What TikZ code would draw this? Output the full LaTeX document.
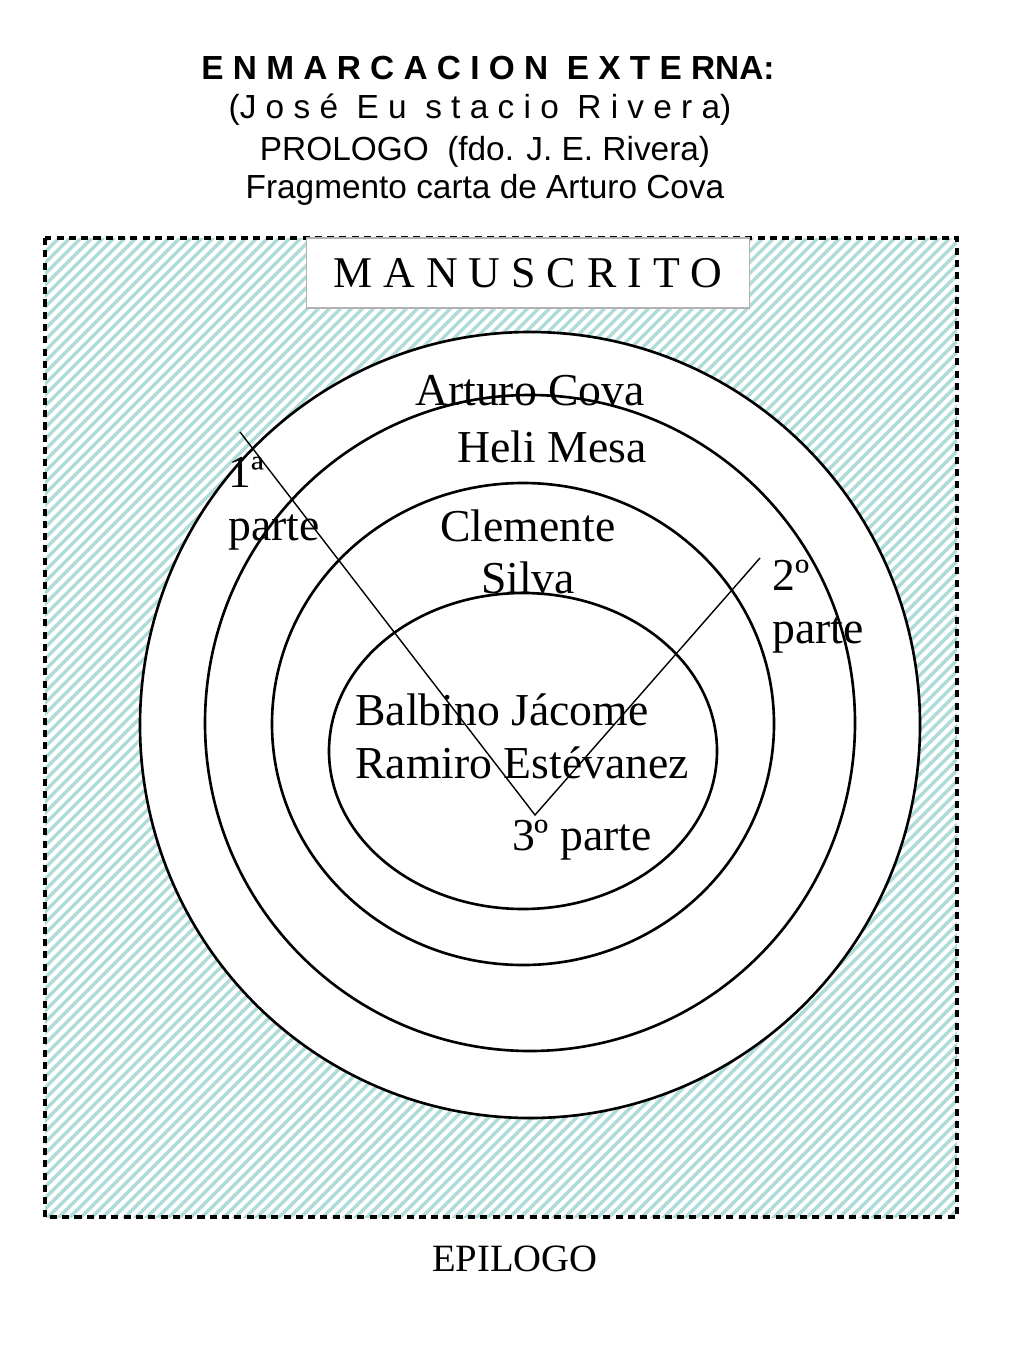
\documentclass[tikz,border=0pt]{standalone}
\usepackage{fontspec}
\setmainfont{Liberation Serif}
\newfontfamily\arialfont{Liberation Sans}
\definecolor{hatchcol}{RGB}{175,220,216}
\begin{document}
\begin{tikzpicture}[x=0.02cm, y=-0.02cm,
    ring/.style = {draw, line width = 1.5pt},
    label/.style = {font = \fontsize{26}{30}\selectfont, align = left, inner sep = 0pt},
    head/.style = {font = \arialfont\fontsize{19}{22}\selectfont, inner sep = 0pt}]
\useasboundingbox (0,0) rectangle (1024,1365);
% hatched frame
\begin{scope}
  \clip (45,238) rectangle (957,1217);
  \foreach \c in {0,11,...,2400}
    \draw[hatchcol, line width = 2pt] (\c-1300,1300) -- (\c,0);
\end{scope}
\draw[line width = 2.5pt, dash pattern = on 4pt off 3pt] (45,238) rectangle (957,1217);
\fill[white] (530,725) ellipse [x radius = 390, y radius = 393];
% title lines
\node[head, font = \arialfont\bfseries\fontsize{19}{22}\selectfont] (t1) at (488,68) {E N M A R C A C I O N\ \ E X T E RNA:};
\node[head] (t2) at (480,110) {(J o s é\ \ E u\ \ s t a c i o\ \ R i v e r a)};
\node[head] (t3) at (485,152) {PROLOGO\ \ (fdo. J. E. Rivera)};
\node[head] (t4) at (485,190) {Fragmento carta de Arturo Cova};
% box
\node[draw = gray!60, fill = white, line width = 1pt, minimum width = 443*0.02cm, minimum height = 70*0.02cm,
  font = \fontsize{25}{30}\selectfont] (manus) at (528,273) {M A N U S C R I T O};
% rings
\draw[ring] (530,725) ellipse [x radius = 390, y radius = 393];
\draw[ring] (530,723) ellipse [x radius = 325, y radius = 328];
\draw[ring] (523,724) ellipse [x radius = 251, y radius = 241];
\draw[ring] (523,751) ellipse [x radius = 194, y radius = 158];
% parts
\coordinate (p1) at (240,432);
\coordinate (p3) at (535,815);
\coordinate (p2) at (760,558);
\draw[line width = 0.8pt] (p1) -- (p3) -- (p2);
\node[label] (arturo) at (530,391) {Arturo Cova};
\node[label] (heli) at (552,447) {Heli Mesa};
\node[label, align = center] (clemente) at (528,552) {Clemente\\Silva};
\node[label, anchor = west] (balbino) at (355,736) {Balbino Jácome\\Ramiro Estévanez};
\node[label, anchor = west] (uno) at (228,504) {1ª\\parte};
\node[label, anchor = west] (dos) at (772,607) {2º\\parte};
\node[label] (tres) at (582,840) {3º parte};
\node[font = \fontsize{22}{26}\selectfont, inner sep = 0pt] (epi) at (515,1259) {EPILOGO};
\end{tikzpicture}
\end{document}
